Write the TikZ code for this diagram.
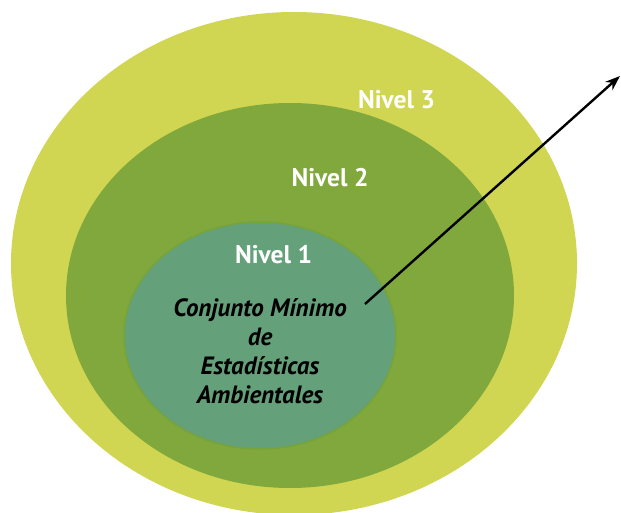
\documentclass[tikz,border=0pt]{standalone}
\usepackage{fontspec}
\setmainfont{PT Sans}
\usetikzlibrary{arrows.meta}
\definecolor{lvlthree}{RGB}{208,214,82}
\definecolor{lvltwo}{RGB}{128,168,60}
\definecolor{lvlone}{RGB}{100,160,122}
\definecolor{lvlonerim}{RGB}{118,164,58}
\tikzset{
  levellabel/.style={text=white, font=\fontsize{25.5}{29}\selectfont\bfseries, inner sep=0pt},
  corelabel/.style={text=black, font=\fontsize{25}{29}\selectfont\bfseries\itshape, align=center, inner sep=0pt},
  pointer/.style={line width=2.4pt, -{Stealth[length=15pt,width=11pt]}}
}
\begin{document}
\begin{tikzpicture}[x=1pt,y=-1pt]
\useasboundingbox (0,0) rectangle (621,513);
\clip (0,0) rectangle (621,513);
\fill[lvlthree] (294,263.5) ellipse [x radius=283pt, y radius=251.5pt];
\fill[lvltwo] (290,295.5) ellipse [x radius=224pt, y radius=192.5pt];
\filldraw[fill=lvlone, draw=lvlonerim, line width=1.5pt] (260,335.5) ellipse [x radius=136pt, y radius=113.5pt];
\node[levellabel] (n3) at (396.5,100) {Nivel 3};
\node[levellabel] (n2) at (330,178) {Nivel 2};
\node[levellabel] (n1) at (273.5,255) {Nivel 1};
\node[corelabel] (core) at (260,351) {Conjunto Mínimo\\de\\Estadísticas\\Ambientales};
\coordinate (start) at (365,304);
\coordinate (tip) at (620,76);
\draw[pointer] (start) -- (tip);
\end{tikzpicture}
\end{document}
